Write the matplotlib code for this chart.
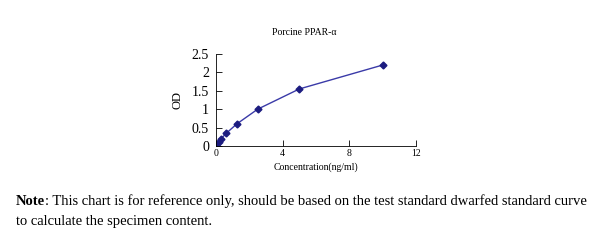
import matplotlib.pyplot as plt

plt.rcParams['font.family'] = ['Liberation Serif', 'DejaVu Serif']

# standard curve points
conc = [0, 0.156, 0.312, 0.625, 1.25, 2.5, 5, 10]
od = [0.04, 0.12, 0.2, 0.35, 0.6, 1.0, 1.55, 2.2]
x_ticks = [0, 4, 8, 12]
y_ticks = [0, 0.5, 1, 1.5, 2, 2.5]
y_tick_labels = ['0', '0.5', '1', '1.5', '2', '2.5']

fig = plt.figure(figsize=(6, 2.46), dpi=100)
ax = fig.add_axes([0.36, 0.4065, 0.3333, 0.374])

ax.plot(conc, od, '-', color='#3a3aa8', linewidth=1.0)
ax.plot(conc, od, 'D', color='#1c1c80', markersize=3.5)

ax.set_xlim(0, 12)
ax.set_ylim(0, 2.5)
ax.set_xticks(x_ticks)
ax.set_yticks(y_ticks)
ax.set_yticklabels(y_tick_labels)
ax.tick_params(axis='x', direction='in', length=4, labelsize=7, pad=2, width=0.6)
ax.tick_params(axis='y', direction='in', length=4, labelsize=10, pad=5, width=0.6)
for s in ['top', 'right']:
    ax.spines[s].set_visible(False)
for s in ['left', 'bottom']:
    ax.spines[s].set_linewidth(0.6)

ax.set_xlabel('Concentration(ng/ml)', fontsize=7, labelpad=3)
ax.set_ylabel('OD', fontsize=9, labelpad=6)
ax.set_title('Porcine PPAR-\u03b1', fontsize=7, pad=14, x=0.44)

# note below the chart, "Note" in bold
t_bold = fig.text(0.027, 0.167, 'Note', fontsize=10.5, fontweight='bold', va='baseline')
fig.canvas.draw()
bb = t_bold.get_window_extent()
x_after = bb.x1 / fig.bbox.width
fig.text(x_after, 0.167, ': This chart is for reference only, should be based on the test standard dwarfed standard curve',
         fontsize=10.5, va='baseline')
fig.text(0.027, 0.085, 'to calculate the specimen content.', fontsize=10.5, va='baseline')

plt.savefig('out.png', dpi=100)
